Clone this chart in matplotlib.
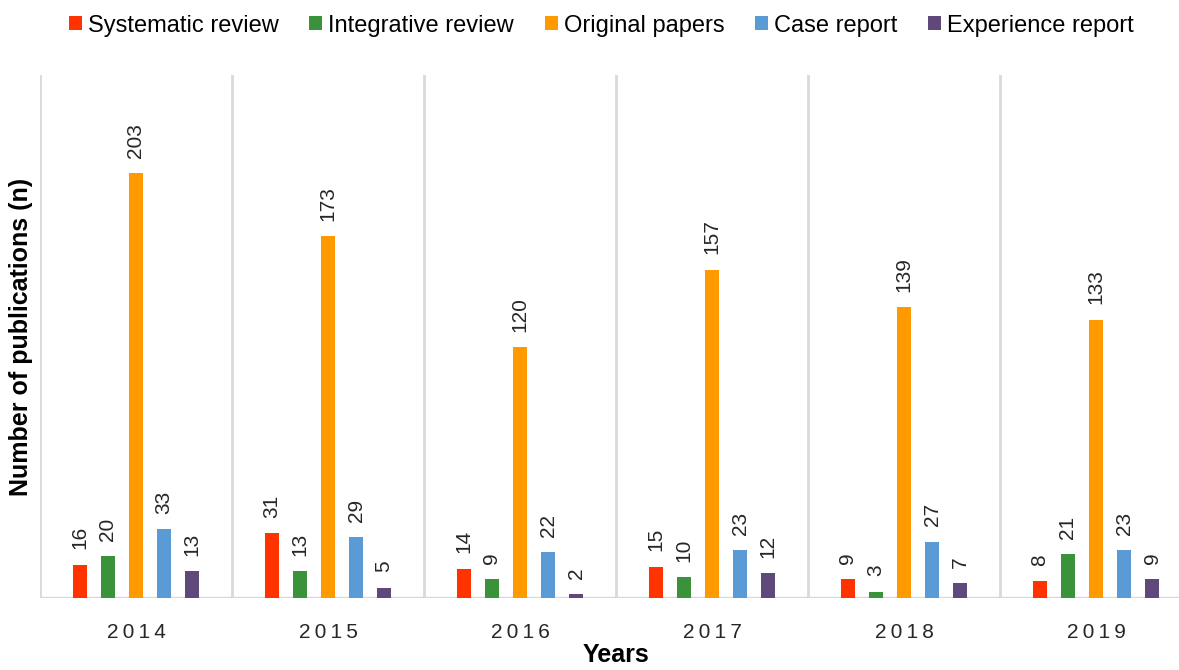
import numpy as np
import matplotlib
matplotlib.use("Agg")
from matplotlib import pyplot as plt

plt.rcParams['font.family'] = ['Liberation Sans', 'DejaVu Sans']

years = ["2014", "2015", "2016", "2017", "2018", "2019"]
series = ["Systematic review", "Integrative review", "Original papers", "Case report", "Experience report"]
systematic = [16, 31, 14, 15, 9, 8]
integrative = [20, 13, 9, 10, 3, 21]
original = [203, 173, 120, 157, 139, 133]
case_report = [33, 29, 22, 23, 27, 23]
experience = [13, 5, 2, 12, 7, 9]
colors = ["#FF3300", "#3A923A", "#FF9900", "#5B9BD5", "#5F497A"]

values = [systematic, integrative, original, case_report, experience]

fig = plt.figure(figsize=(11.79, 6.70), dpi=100)
ax = fig.add_axes([40/1179, 72/670, 1152/1179, 523/670])

x = np.arange(len(years))
step = 0.146
width = 0.074
for k in range(len(series)):
    pos = x + (k - 2) * step
    ax.bar(pos, values[k], width, color=colors[k], label=series[k], zorder=3)
    for xb, v in zip(pos, values[k]):
        ax.annotate(str(v), (xb, v), xytext=(0, 11), textcoords='offset points',
                    ha='center', va='bottom', rotation=90, fontsize=15, color='#262626')

# group separators
for i in range(len(years) + 1):
    ax.axvline(i - 0.5, color='#D9D9D9', lw=2, zorder=1)

ax.set_xlim(-0.5, len(years) - 0.5)
ax.set_ylim(0, 250)
for s in ax.spines.values():
    s.set_visible(False)
ax.axhline(0, color='#D9D9D9', lw=2.5, zorder=2)
ax.set_yticks([])
ax.set_xticks(x)
ax.set_xticklabels(["\u2009".join(y) for y in years], fontsize=15, color='#262626')
ax.tick_params(axis='x', length=0, pad=18)

ax.set_xlabel("Years", fontsize=18, fontweight='bold', labelpad=1)
ax.set_ylabel("Number of publications (n)", fontsize=18, fontweight='bold', labelpad=5)

fig.legend(loc='upper center', bbox_to_anchor=(0.51, 1.01), ncol=5, frameon=False,
           fontsize=17, handlelength=0.55, handleheight=0.55, handletextpad=0.25,
           columnspacing=1.3)

fig.savefig("out.png", dpi=100)
